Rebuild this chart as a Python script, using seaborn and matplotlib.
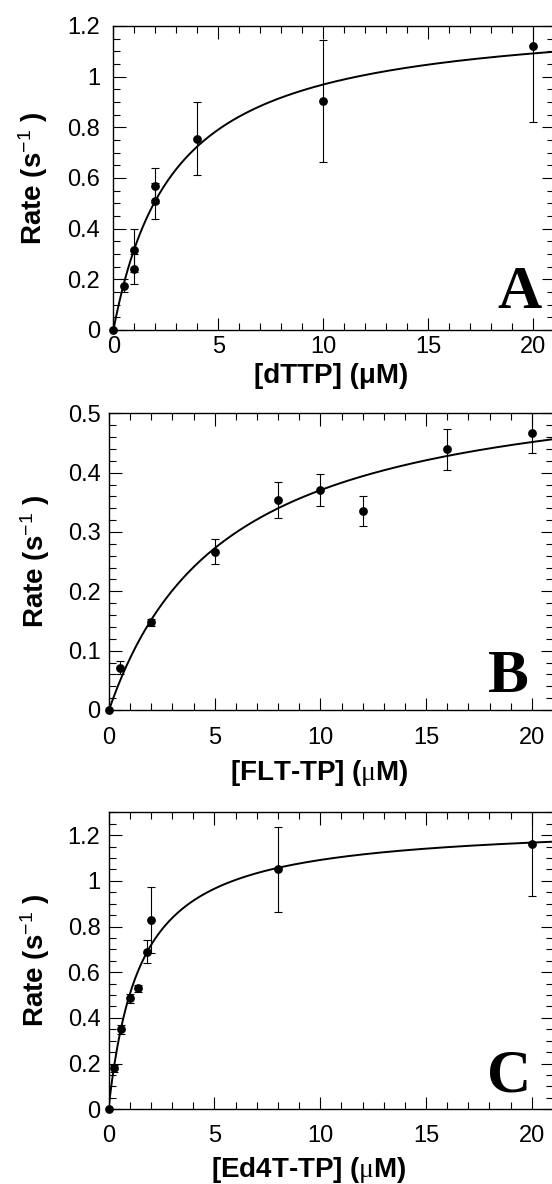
import matplotlib
matplotlib.use('Agg')
import matplotlib.pyplot as plt
from matplotlib.ticker import MultipleLocator, FuncFormatter
import numpy as np
import pandas as pd
import seaborn as sns

# panel A: dTTP
dttp_conc = [0, 0.5, 1, 1, 2, 2, 4, 10, 20]
dttp_rate = [0, 0.175, 0.315, 0.24, 0.57, 0.51, 0.755, 0.905, 1.12]
dttp_err = [0, 0.025, 0.085, 0.06, 0.07, 0.07, 0.145, 0.24, 0.30]

# panel B: FLT-TP
flt_conc = [0, 0.5, 2, 5, 8, 10, 12, 16, 20]
flt_rate = [0, 0.071, 0.148, 0.267, 0.354, 0.370, 0.335, 0.439, 0.467]
flt_err = [0, 0.011, 0.006, 0.021, 0.030, 0.027, 0.025, 0.035, 0.034]

# panel C: Ed4T-TP
ed4t_conc = [0, 0.25, 0.6, 1, 1.4, 1.8, 2, 8, 20]
ed4t_rate = [0, 0.18, 0.35, 0.485, 0.53, 0.69, 0.83, 1.05, 1.163]
ed4t_err = [0, 0.015, 0.02, 0.02, 0.015, 0.05, 0.145, 0.185, 0.23]

# hyperbolic fit parameters (kpol, Kd)
fit_kpol = [1.25, 0.578, 1.255]
fit_kd = [2.9, 5.6, 1.5]

x_labels = ['[dTTP] (μM)', '[FLT-TP] ($\\mathsf{\\mu}$M)', '[Ed4T-TP] ($\\mathsf{\\mu}$M)']
letters = ['A', 'B', 'C']

sns.set_theme(style='ticks')
plt.rcParams['font.family'] = ['Liberation Sans', 'DejaVu Sans']
plt.rcParams['mathtext.fontset'] = 'custom'
plt.rcParams['mathtext.rm'] = 'Liberation Sans'
plt.rcParams['mathtext.it'] = 'Liberation Sans:italic'
plt.rcParams['mathtext.bf'] = 'Liberation Sans:bold'
plt.rcParams['mathtext.sf'] = 'Liberation Serif'
for k in ['axes.edgecolor', 'xtick.color', 'ytick.color', 'text.color', 'axes.labelcolor']:
    plt.rcParams[k] = 'black'

W, H = 552, 1184
fig = plt.figure(figsize=(W / 100, H / 100), dpi=100)
fig.patch.set_facecolor('white')

# pixel boxes: left, right, top, bottom
boxes = [(113.4, 554, 26, 330), (109, 553, 413.3, 710), (108.5, 553, 812.3, 1109.3)]
ylims = [1.2, 0.5, 1.3]
ymajor = [0.2, 0.1, 0.2]
yminor = [0.05, 0.02, 0.05]
xpads = [4.5, 12, 11.5]
ypads = [9.4, 6.2, 5.8]
xlab_pos = [(331, 363), (319, 758), (309, 1155)]
ylab_x = [50, 52, 52]
letter_pos = [(20.4, 0.086), (19.86, 0.031), (19.95, 0.08)]

datasets = [
    (dttp_conc, dttp_rate, dttp_err),
    (flt_conc, flt_rate, flt_err),
    (ed4t_conc, ed4t_rate, ed4t_err),
]

fmt = FuncFormatter(lambda v, p: '%g' % round(v, 3))

for i, (conc, rate, err) in enumerate(datasets):
    l, r, t, b = boxes[i]
    ax = fig.add_axes([l / W, 1 - b / H, (r - l) / W, (b - t) / H])
    ax.set_facecolor('white')
    df = pd.DataFrame({'conc': conc, 'rate': rate, 'err': err})

    x_fit = np.linspace(0, 21, 300)
    y_fit = fit_kpol[i] * x_fit / (fit_kd[i] + x_fit)
    sns.lineplot(x=x_fit, y=y_fit, ax=ax, color='black', linewidth=1.4, zorder=2)
    ax.errorbar(df['conc'], df['rate'], yerr=df['err'], fmt='none', ecolor='black',
                elinewidth=0.8, capsize=3.2, capthick=0.8, zorder=2)
    sns.scatterplot(data=df, x='conc', y='rate', ax=ax, color='black', s=40,
                    linewidth=0, clip_on=False, zorder=3)

    ax.set_xlim(0, 21)
    ax.set_ylim(0, ylims[i])
    ax.xaxis.set_major_locator(MultipleLocator(5))
    ax.xaxis.set_minor_locator(MultipleLocator(1))
    ax.yaxis.set_major_locator(MultipleLocator(ymajor[i]))
    ax.yaxis.set_minor_locator(MultipleLocator(yminor[i]))
    ax.xaxis.set_major_formatter(fmt)
    ax.yaxis.set_major_formatter(fmt)
    ax.tick_params(which='both', direction='in', top=True, right=True, width=0.8,
                   labelsize=17)
    ax.tick_params(which='major', length=9)
    ax.tick_params(which='minor', length=5)
    ax.tick_params(axis='x', which='major', pad=xpads[i])
    ax.tick_params(axis='y', which='major', pad=ypads[i])
    for s in ax.spines.values():
        s.set_linewidth(1.0)
        s.set_color('black')

    ax.set_xlabel(x_labels[i], fontsize=20, fontweight='bold')
    ax.set_ylabel('Rate (s$^{-1}$ )', fontsize=20, fontweight='bold')
    xc, xt = xlab_pos[i]
    ax.xaxis.set_label_coords((xc - l) / (r - l), -(xt - b) / (b - t))
    ax.yaxis.set_label_coords((ylab_x[i] - l) / (r - l), 0.5)

    lx, ly = letter_pos[i]
    ax.text(lx, ly, letters[i], family='Liberation Serif', fontweight='bold',
            fontsize=44, ha='right', va='baseline')

fig.savefig('out.png', dpi=100, facecolor='white')
